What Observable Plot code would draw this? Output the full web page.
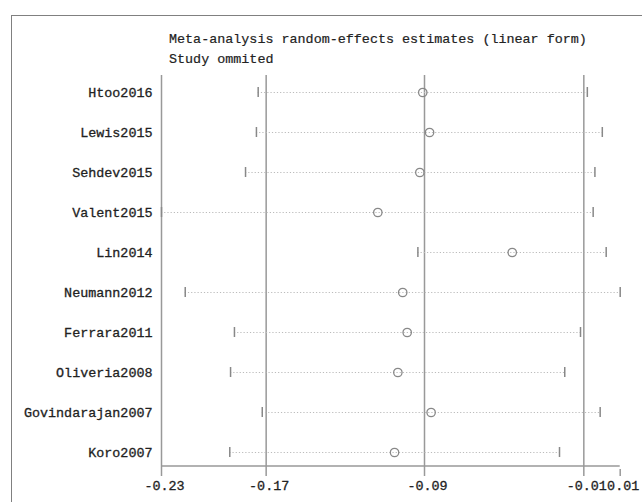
<!DOCTYPE html>
<html><head><meta charset="utf-8">
<script src="https://cdn.jsdelivr.net/npm/d3@7"></script>
<script src="https://cdn.jsdelivr.net/npm/@observablehq/plot@0.6"></script>
<style>
body{margin:0;background:#fff;width:642px;height:502px;overflow:hidden;position:relative;font-family:"Liberation Mono",monospace;}
#frame{position:absolute;left:11px;top:15px;width:700px;height:560px;border:1.5px solid #808080;}
#title{position:absolute;left:169px;top:30px;font-size:13.4px;line-height:20px;color:#222;white-space:pre;-webkit-text-stroke:0.2px #222;}
#chart{position:absolute;left:0;top:0;}
#chart text{stroke:#222;stroke-width:0.3px;}
</style></head><body>
<div id="chart"></div>
<div id="frame"></div>
<div id="title">Meta-analysis random-effects estimates (linear form)
Study ommited</div>
<script>
const studies   = ["Htoo2016","Lewis2015","Sehdev2015","Valent2015","Lin2014","Neumann2012","Ferrara2011","Oliveria2008","Govindarajan2007","Koro2007"];
const estimates = [-0.0924, -0.0889, -0.0939, -0.1155, -0.0464, -0.1027, -0.1004, -0.1052, -0.0881, -0.1069];
const lower     = [-0.1770, -0.1779, -0.1835, -0.2267, -0.0949, -0.2145, -0.1892, -0.1912, -0.1749, -0.1916];
const upper     = [-0.0078, -0.0001, -0.0039, -0.0048,  0.0019,  0.0091, -0.0113, -0.0194, -0.0012, -0.0221];
const overall   = [-0.1729, -0.0915, -0.0096]; // overall lower CI, estimate, upper CI
const axisMin = -0.2267, axisMax = 0.0091;
const tickValues = [axisMin, overall[0], overall[1], overall[2], axisMax];
const tickLabels = ["-0.23", "-0.17", "-0.09", "-0.01", "0.01"];

const rows = studies.map((s, i) => ({study: s, est: estimates[i], lo: lower[i], hi: upper[i]}));
const ends = rows.flatMap(r => [{study: r.study, v: r.lo}, {study: r.study, v: r.hi}]);
const baseLine = [{study: studies[studies.length - 1], x1: axisMin, x2: axisMax}];

const chart = Plot.plot({
  width: 642,
  height: 502,
  marginLeft: 161,
  marginRight: 22.3,
  marginTop: 75,
  marginBottom: 33,
  style: {fontFamily: "Liberation Mono, monospace", fontSize: "13.4px", color: "#222", background: "transparent"},
  x: {domain: [axisMin, axisMax], axis: null},
  y: {type: "band", domain: studies, paddingInner: 0.5, paddingOuter: 0.08, tickSize: 0, tickPadding: 9, label: null},
  marks: [
    Plot.axisX({ticks: tickValues, tickFormat: () => "", tickSize: 7, label: null, stroke: "#999", strokeWidth: 1.5}),
    Plot.axisX({ticks: tickValues, tickFormat: d => tickLabels[tickValues.indexOf(d)], tickSize: 0, tickPadding: 11, dx: 3, label: null}),
    Plot.ruleX(overall, {stroke: "#999", strokeWidth: 1.5}),
    Plot.ruleX([axisMin], {stroke: "#999", strokeWidth: 1.5}),
    Plot.ruleY(baseLine, {y: "study", x1: "x1", x2: "x2", dy: 13.5, stroke: "#999", strokeWidth: 1.5}),
    Plot.ruleY(rows, {y: "study", x1: "lo", x2: "hi", stroke: "#bbb", strokeWidth: 1, strokeDasharray: "1.2,2"}),
    Plot.tickX(ends, {x: "v", y: "study", stroke: "#888", strokeWidth: 1.5, insetTop: 5, insetBottom: 5}),
    Plot.dot(rows, {x: "est", y: "study", r: 4.2, stroke: "#888", strokeWidth: 1.3, fill: "none"})
  ]
});
document.getElementById("chart").appendChild(chart);
</script>
</body></html>
